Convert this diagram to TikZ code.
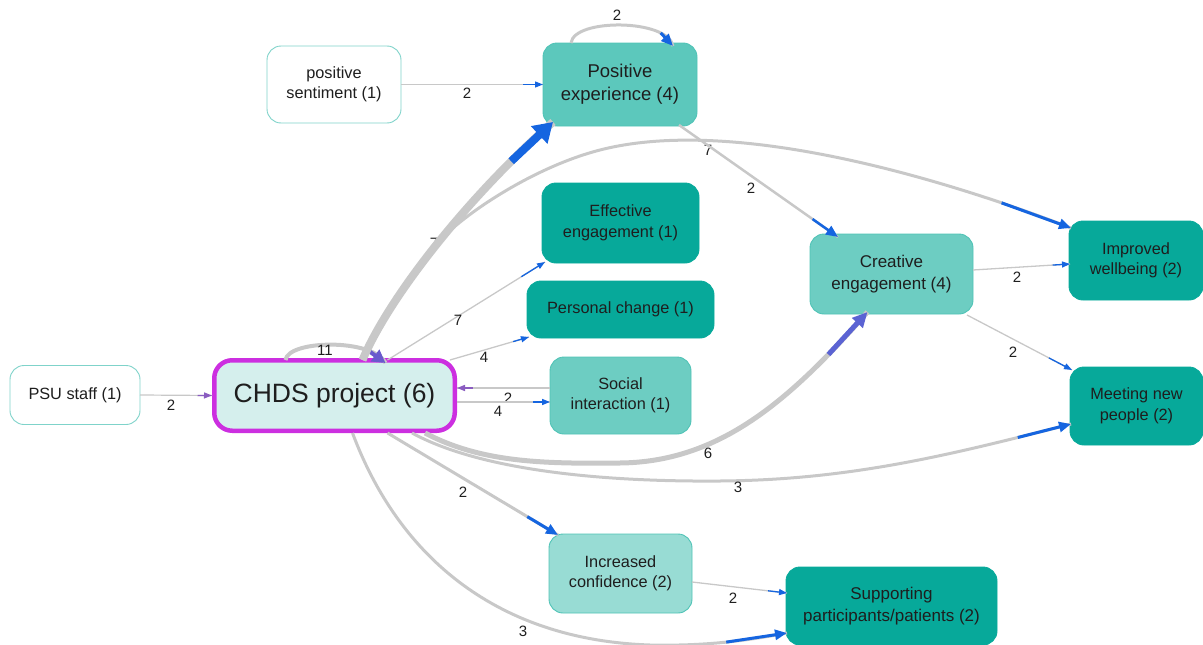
\documentclass[tikz,border=0pt]{standalone}
\usepackage{fontspec}
\setmainfont{Liberation Sans}
\usetikzlibrary{arrows.meta,calc}
\definecolor{egray}{HTML}{C8C8C8}
\definecolor{tblue}{HTML}{1565E0}
\definecolor{tpurple}{HTML}{8A5CC0}
\definecolor{tslate}{HTML}{6A5ACD}
\definecolor{tindigo}{HTML}{5B63D3}
\definecolor{txt}{HTML}{1E1E1E}
\definecolor{bordw}{HTML}{7FD3CA}
\definecolor{dteal}{HTML}{07A99A}
\definecolor{mteal}{HTML}{5CC8BC}
\definecolor{cteal}{HTML}{6DCDC2}
\definecolor{lteal}{HTML}{98DCD4}
\definecolor{lborder}{HTML}{4FC3B6}
\definecolor{magb}{HTML}{CC2FE0}
\definecolor{chfill}{HTML}{D5EFED}
\begin{document}
\begin{tikzpicture}[x=1pt,y=-1pt,
  box/.style={rounded corners=14pt, inner sep=0pt, outer sep=0pt, align=center, text=txt,
              font=\fontsize{16.3}{20.5}\selectfont, line width=0.9pt},
  wbox/.style={box, draw=bordw, fill=white},
  dbox/.style={box, draw=dteal, fill=dteal},
  mbox/.style={box, draw=lborder, fill=mteal},
  cbox/.style={box, draw=lborder, fill=cteal},
  lbox/.style={box, draw=lborder, fill=lteal},
  eg/.style={draw=egray, line width=#1},
  eb/.style={draw=tblue, line width=#1},
  ep/.style={draw=tpurple, line width=#1},
  lbl/.style={font=\fontsize{15}{15}\selectfont, text=txt, inner sep=0pt},
  tipS/.style={-{Triangle[length=8pt,width=6pt]}},
  tipM/.style={-{Triangle[length=12pt,width=10pt]}},
  tipL/.style={-{Triangle[length=15pt,width=14pt]}},
  tipXL/.style={-{Triangle[length=19pt,width=23pt]}}
]
\useasboundingbox (0,0) rectangle (1203,645);

% nodes
\node[wbox, minimum width=130pt, minimum height=59pt] (psu) at (75,395) {PSU staff (1)};
\node[box, draw=magb, fill=chfill, line width=4.5pt, rounded corners=18pt,
      minimum width=240.5pt, minimum height=70.5pt, outer sep=2.25pt,
      font=\fontsize{26.5}{30}\selectfont] (chds) at (334.5,395.5) {CHDS project (6)};
\node[wbox, minimum width=134pt, minimum height=77pt] (ps) at (334,84.5) {positive\\sentiment (1)};
\node[mbox, minimum width=154pt, minimum height=83pt, font=\fontsize{18.5}{23}\selectfont] (pe) at (620,84.5) {Positive\\experience (4)};
\node[dbox, minimum width=157pt, minimum height=80pt] (ee) at (620.5,223) {Effective\\engagement (1)};
\node[dbox, minimum width=187pt, minimum height=57pt] (pc) at (620.5,309.5) {Personal change (1)};
\node[cbox, minimum width=141pt, minimum height=77pt] (si) at (620.5,395.5) {Social\\interaction (1)};
\node[cbox, minimum width=163pt, minimum height=80pt, font=\fontsize{17}{21.5}\selectfont] (ce) at (891.5,274) {Creative\\engagement (4)};
\node[dbox, minimum width=134pt, minimum height=79pt] (iw) at (1136,260.5) {Improved\\wellbeing (2)};
\node[dbox, minimum width=133pt, minimum height=78pt] (mn) at (1136.5,406) {Meeting new\\people (2)};
\node[lbox, minimum width=143pt, minimum height=79pt] (ic) at (620.5,573.5) {Increased\\confidence (2)};
\node[dbox, minimum width=211pt, minimum height=78pt, font=\fontsize{17}{21.5}\selectfont] (sp) at (891.5,606) {Supporting\\participants/patients (2)};

% label hidden under the thick edge
\node[lbl] (l3) at (434,243) {7};

% PSU -> CHDS
\draw[eg=1.2] (psu.east) -- coordinate[pos=0.8] (a1) (chds.west);
\draw[ep=1.2, tipS] (a1) -- (chds.west);
\node[lbl] (l1) at (171,405) {2};

% CHDS self loop
\draw[eg=4] ($(chds.north)+(-49,2)$) .. controls (288,340) and (372,338) .. coordinate[pos=0.78] (a2) ($(chds.north)+(51,5)$);
\draw[draw=tslate, line width=4, -{Triangle[length=13pt,width=14pt]}] (a2) -- ($(chds.north)+(51,5)$);
\node[lbl] (l2) at (325,350) {11};

% CHDS -> Improved wellbeing (shares the start of the thick edge)
\draw[eg=3] ($(chds.north)+(28,2)$) .. controls (376,327.5) and (403,286) .. (437,244)
   .. controls (457,219) and (530,168) .. (600,150)
   .. controls (740,114) and (960,185) .. coordinate[pos=0.82] (a4) ($(iw.north west)+(2,7)$);
\draw[eb=3, tipM] (a4) -- ($(iw.north west)+(2,7)$);
\node[lbl] (l4) at (708,150) {7};

% CHDS -> Positive experience (thick)
\draw[eg=8] ($(chds.north)+(28,2)$) .. controls (390,295) and (470,195) .. coordinate[pos=0.83] (a3) ($(pe.south west)+(10,-4)$);
\draw[eb=8, tipXL] (a3) -- ($(pe.south west)+(10,-4)$);

% CHDS -> Effective engagement
\draw[eg=1.3] ($(chds.north)+(53,2)$) -- coordinate[pos=0.85] (a5) ($(ee.south west)+(3,-1)$);
\draw[eb=1.3, tipS] (a5) -- ($(ee.south west)+(3,-1)$);
\node[lbl] (l5) at (458,320) {7};

% CHDS -> Personal change
\draw[eg=1.3] ($(chds.north east)+(-7,2)$) -- coordinate[pos=0.8] (a6) ($(pc.south west)+(2,-1)$);
\draw[eb=1.3, tipS] (a6) -- ($(pc.south west)+(2,-1)$);
\node[lbl] (l6) at (484,357) {4};

% Social interaction -> CHDS
\draw[eg=1.5] ($(si.west)+(0,-7.5)$) -- coordinate[pos=0.83] (a7) ($(chds.east)+(0,-7.5)$);
\draw[ep=1.5, tipS] (a7) -- ($(chds.east)+(0,-7.5)$);
\node[lbl] (l7) at (508,398) {2};

% CHDS -> Social interaction
\draw[eg=1.5] ($(chds.east)+(0,6.5)$) -- coordinate[pos=0.82] (a8) ($(si.west)+(0,6.5)$);
\draw[eb=1.5, tipS] (a8) -- ($(si.west)+(0,6.5)$);
\node[lbl] (l8) at (498,411) {4};

% CHDS -> Creative engagement (6)
\draw[eg=5] ($(chds.south east)+(-32,0)$) .. controls (480,462) and (540,464) .. (620,463)
   .. controls (720,462) and (790,400) .. coordinate[pos=0.83] (a9) ($(ce.south)+(-24,-2)$);
\draw[draw=tindigo, line width=5, tipL] (a9) -- ($(ce.south)+(-24,-2)$);
\node[lbl] (l9) at (708,453) {6};

% CHDS -> Meeting new people (3)
\draw[eg=3] ($(chds.south east)+(-45,0)$) .. controls (480,470) and (600,482) .. (720,481)
   .. controls (850,480) and (950,455) .. coordinate[pos=0.85] (a10) ($(mn.west)+(1,18)$);
\draw[eb=3, tipM] (a10) -- ($(mn.west)+(1,18)$);
\node[lbl] (l10) at (738,487) {3};

% CHDS -> Increased confidence
\draw[eg=3] ($(chds.south)+(53,0)$) -- coordinate[pos=0.82] (a11) ($(ic.north west)+(9,1)$);
\draw[eb=3, tipM] (a11) -- ($(ic.north west)+(9,1)$);
\node[lbl] (l11) at (463,492) {2};

% CHDS -> Supporting (3)
\draw[eg=3] ($(chds.south)+(18,0)$) .. controls (400,560) and (500,640) .. (650,645)
   .. controls (700,646) and (740,642) .. coordinate[pos=0.55] (a12) ($(sp.west)+(1,27)$);
\draw[eb=3, tipM] (a12) -- ($(sp.west)+(1,27)$);
\node[lbl] (l12) at (523,631) {3};

% positive sentiment -> Positive experience
\draw[eg=1.2] (ps.east) -- coordinate[pos=0.86] (a13) (pe.west);
\draw[eb=1.2, tipS] (a13) -- (pe.west);
\node[lbl] (l13) at (467,93) {2};

% Positive experience self loop
\draw[eg=3] ($(pe.north)+(-49,0)$) .. controls (574,18) and (668,19) .. coordinate[pos=0.8] (a14) ($(pe.north)+(53,3)$);
\draw[eb=3, tipM] (a14) -- ($(pe.north)+(53,3)$);
\node[lbl] (l14) at (617,15) {2};

% Positive experience -> Creative engagement
\draw[eg=2.5] ($(pe.south east)+(-18,-1)$) -- coordinate[pos=0.84] (a15) ($(ce.north west)+(28,3)$);
\draw[eb=2.5, tipM] (a15) -- ($(ce.north west)+(28,3)$);
\node[lbl] (l15) at (751,188) {2};

% Creative -> Improved wellbeing
\draw[eg=1.3] ($(ce.east)+(0,-4)$) -- coordinate[pos=0.82] (a16) ($(iw.west)+(1,3.5)$);
\draw[eb=1.3, tipS] (a16) -- ($(iw.west)+(1,3.5)$);
\node[lbl] (l16) at (1017,277) {2};

% Creative -> Meeting new people
\draw[eg=1.3] ($(ce.south east)+(-6,1)$) -- coordinate[pos=0.78] (a17) ($(mn.north west)+(2,3)$);
\draw[eb=1.3, tipS] (a17) -- ($(mn.north west)+(2,3)$);
\node[lbl] (l17) at (1013,352) {2};

% Increased confidence -> Supporting
\draw[eg=1.3] ($(ic.east)+(0,8.5)$) -- coordinate[pos=0.8] (a18) ($(sp.west)+(1,-13)$);
\draw[eb=1.3, tipS] (a18) -- ($(sp.west)+(1,-13)$);
\node[lbl] (l18) at (733,598) {2};
\end{tikzpicture}
\end{document}
